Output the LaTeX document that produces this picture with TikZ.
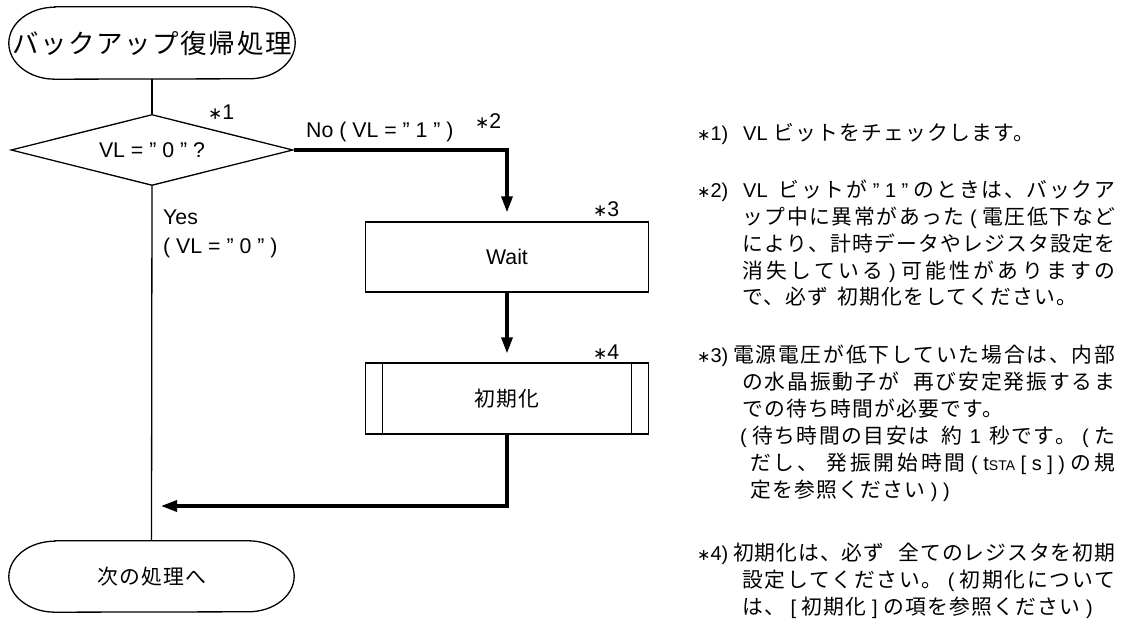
\documentclass[tikz,border=0pt]{standalone}
\usepackage{graphicx}
\usepackage{fontspec}
\setmainfont{Liberation Sans}
\newfontfamily\cjk[LetterSpace=6,Scale=1.04]{Noto Sans CJK JP}
\newfontfamily\symf{DejaVu Sans}
\usetikzlibrary{shapes.geometric,arrows.meta,calc}
\newcommand\fs[1]{\fontsize{#1}{#1}\selectfont}
\newcommand\J[1]{{\cjk #1}}
% CJK run with stretchable glue between characters (for justified lines)
\def\Jsp#1{{\cjk\Jspi#1\relax}}
\def\Jspi#1{#1\Jspj}
\def\Jspj#1{\ifx#1\relax\else\hskip0pt plus 1fil\relax#1\expandafter\Jspj\fi}
\newcommand\jline[2]{\makebox[#1][s]{#2}}
\newcommand\astr{{\symf\scalebox{0.8}{∗}}}
\newcommand\termline[2]{\draw[line] ([xshift=46pt]#1.north west) -- ([xshift=-46pt]#1.north east) arc[start angle=90,end angle=-90,x radius=46pt,y radius=#2] -- ([xshift=46pt]#1.south west) arc[start angle=270,end angle=90,x radius=46pt,y radius=#2] -- cycle;}
\begin{document}
\begin{tikzpicture}[x=1pt,y=1pt,
  line/.style={line width=1.3pt},
  flow/.style={line width=3.2pt,-{Triangle[length=16pt,width=11pt]},shorten >=9pt},
  txt/.style={anchor=base west,inner sep=0pt},
  box/.style={draw,line,minimum width=283pt,inner sep=0pt}]
\useasboundingbox (0,0) rectangle (1125,623);
% flowchart nodes
\node[minimum width=286pt,minimum height=72pt,inner sep=0pt] (start) at (152,580) {\fs{25.5}\J{バックアップ復帰処理}};
\termline{start}{36pt}
\node[diamond,draw,line,aspect=3.97,minimum width=282pt,minimum height=71pt,inner sep=0pt] (dec) at (152,473) {\fs{21.3}VL = " 0 " ?};
\node[box,minimum height=70pt] (wait) at (507,366) {\fs{21.3}Wait};
\node[box,minimum height=71pt] (init) at (507,224.5) {\fs{20}\J{初期化}};
\draw[line] ([xshift=17.5pt]init.north west) -- ([xshift=17.5pt]init.south west);
\draw[line] ([xshift=-17.5pt]init.north east) -- ([xshift=-17.5pt]init.south east);
\node[minimum width=285pt,minimum height=71pt,inner sep=0pt] (stop) at (151.5,46.5) {\fs{20}\J{次の処理へ}};
\termline{stop}{35.5pt}
\coordinate (join) at (152,117);
% connectors
\draw[line] (start.south) -- (dec.north);
\draw[line] (dec.south) -- (stop.north);
\draw[flow] (dec.east) -| (wait.north);
\draw[flow] (wait.south) -- (init.north);
\draw[flow] (init.south) |- (join);
% labels
\node[txt] (m1) at (208,503.3) {\fs{21.3}\astr1};
\node[txt] (m2) at (475,494.3) {\fs{21.3}\astr2};
\node[txt] (no) at (306,485.3) {\fs{21.3}No ( VL = " 1 " )};
\node[txt] (yes) at (163,398.3) {\fs{21.3}Yes};
\node[txt] (yes2) at (163,369.3) {\fs{21.3}( VL = " 0 " )};
\node[txt] (m3) at (593,406.3) {\fs{21.3}\astr3};
\node[txt] (m4) at (593,263.3) {\fs{21.3}\astr4};
% notes
\begin{scope}[every node/.style={txt},font=\fs{20}]
\node (k1) at (697,482.5) {\astr1)};
\node (t1) at (743,482.5) {VL \J{ビットをチェックします。}};
\node (k2) at (697,425.5) {\astr2)};
\node (t2a) at (743,425.5) {\jline{372pt}{VL\ \ \Jsp{ビットが} " 1 " \Jsp{のときは、バックア}}};
\node (t2b) at (742,398.5) {\jline{373pt}{\Jsp{ップ中に異常があった} ( \Jsp{電圧低下など}}};
\node (t2c) at (742,371.5) {\jline{373pt}{\Jsp{により、計時データやレジスタ設定を}}};
\node (t2d) at (742,344.5) {\jline{373pt}{\Jsp{消失している} ) \Jsp{可能性がありますの}}};
\node (t2e) at (742,318.5) {\J{で、必ず}\hspace{9pt}\J{初期化をしてください。}};
\node (k3) at (697,260.5) {\astr3)};
\node (t3a) at (733,260.5) {\jline{382pt}{\Jsp{電源電圧が低下していた場合は、内部}}};
\node (t3b) at (742,233.5) {\jline{373pt}{\Jsp{の水晶振動子が}\hspace{14pt}\Jsp{再び安定発振するま}}};
\node (t3c) at (742,206.5) {\J{での待ち時間が必要です。}};
\node (t3d) at (740,179.5) {\jline{375pt}{( \Jsp{待ち時間の目安は}\hspace{12pt}\J{約}\hspace{8pt}1\hspace{8pt}\Jsp{秒です。} ( \J{た}}};
\node (t3e) at (750,152.5) {\jline{365pt}{\Jsp{だし、}\hspace{8pt}\Jsp{発振開始時間} ( t{\fs{14}STA} [ s ] ) \Jsp{の規}}};
\node (t3f) at (750,125.5) {\J{定を参照ください} ) )};
\node (k4) at (697,62.5) {\astr4)};
\node (t4a) at (733,62.5) {\jline{382pt}{\Jsp{初期化は、必ず}\hspace{14pt}\Jsp{全てのレジスタを初期}}};
\node (t4b) at (742,35.5) {\jline{373pt}{\Jsp{設定してください。} ( \Jsp{初期化について}}};
\node (t4c) at (742,8.5) {\J{は、} [ \J{初期化} ] \J{の項を参照ください} )};
\end{scope}
\end{tikzpicture}
\end{document}
